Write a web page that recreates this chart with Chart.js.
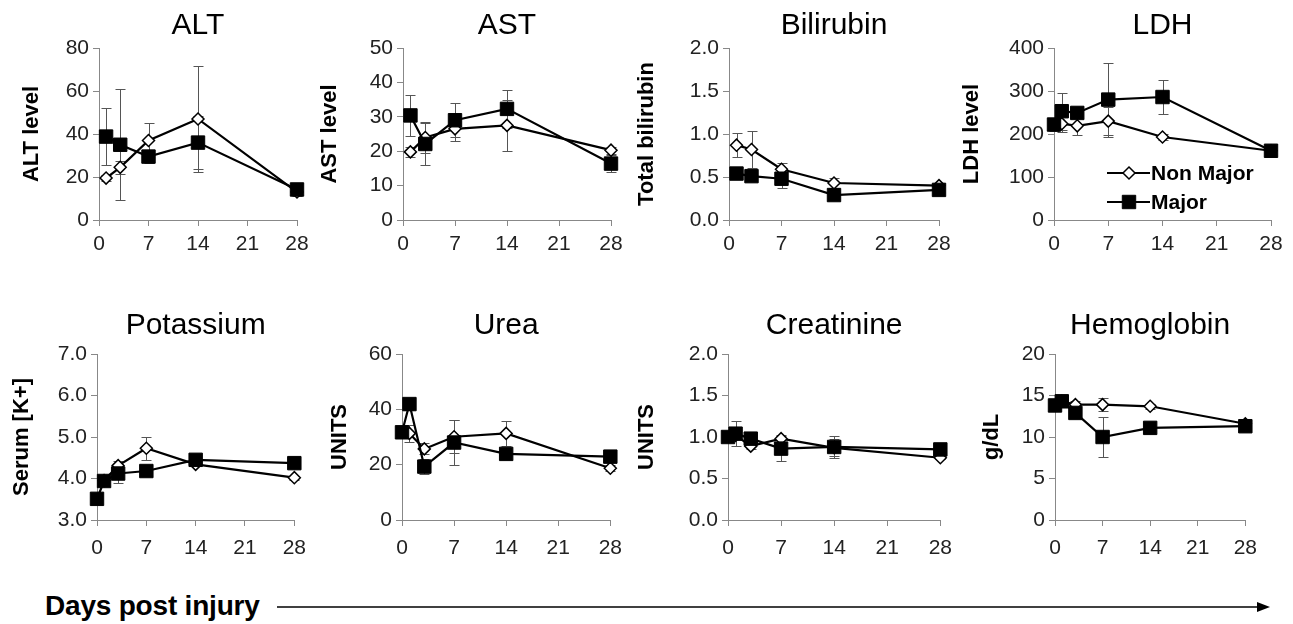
<!DOCTYPE html>
<html>
<head>
<meta charset="utf-8">
<title>Lab values post injury</title>
<script src="https://cdn.jsdelivr.net/npm/chart.js@4.4.1/dist/chart.umd.min.js"></script>
<style>
  body { margin: 0; background: #fff; }
  #wrap { position: relative; width: 1293px; height: 624px; overflow: hidden; background: #fff; }
  #wrap canvas { position: absolute; }
  #xlabel {
    position: absolute; left: 45px; top: 590px;
    font: bold 28px "Liberation Sans", Arial, sans-serif;
    letter-spacing: -0.2px; color: #000; white-space: nowrap;
  }
  #arrow { position: absolute; left: 0; top: 595px; }
</style>
</head>
<body>
<div id="wrap">
  <div id="xlabel">Days post injury</div>
  <svg id="arrow" width="1293" height="25">
    <line x1="277" y1="12" x2="1262" y2="12" stroke="#000" stroke-width="1.5"/>
    <polygon points="1257,7 1270,12 1257,17" fill="#000"/>
  </svg>
</div>
<script>
// days sampled
const daysShort = [1, 3, 7, 14, 28];
const daysLong = [0, 1, 3, 7, 14, 28];
const xTicks = [0, 7, 14, 21, 28];

// values (mean, error)
const altNonMajor = [19.5, 24.5, 37, 47, 13];
const altNonMajorErr = [1.5, 3, 8, 24.5, 2];
const altMajor = [38.8, 35, 29.5, 36, 14.2];
const altMajorErr = [13.4, 25.7, 3, 12.5, 2];

const astNonMajor = [19.8, 24, 26.5, 27.5, 20.3];
const astNonMajorErr = [1.5, 4.5, 3.5, 7.5, 1];
const astMajor = [30.4, 22.1, 29, 32.3, 16.4];
const astMajorErr = [6, 6, 5, 5.6, 2.5];

const biliNonMajor = [0.87, 0.82, 0.59, 0.43, 0.40];
const biliNonMajorErr = [0.14, 0.22, 0.07, 0.06, 0.03];
const biliMajor = [0.54, 0.51, 0.48, 0.29, 0.35];
const biliMajorErr = [0.03, 0.03, 0.11, 0.03, 0.03];

const ldhNonMajor = [224, 219, 230, 193, 161];
const ldhNonMajorErr = [20, 22, 33, 8, 8];
const ldhMajor = [222, 253, 249, 280, 286, 161];
const ldhMajorErr = [15, 43, 10, 86, 40, 8];

const kNonMajor = [3.95, 4.31, 4.73, 4.34, 4.02];
const kNonMajorErr = [0.05, 0.1, 0.28, 0.05, 0.05];
const kMajor = [3.51, 3.94, 4.12, 4.18, 4.45, 4.37];
const kMajorErr = [0.05, 0.05, 0.24, 0.1, 0.05, 0.05];

const ureaNonMajor = [31.3, 25.7, 30.1, 31.3, 18.7];
const ureaNonMajorErr = [3, 2, 6, 4.6, 1];
const ureaMajor = [31.7, 41.9, 19.3, 28, 23.9, 22.9];
const ureaMajorErr = [2, 2.2, 2.7, 8, 1, 1];

const creatNonMajor = [1.02, 0.89, 0.98, 0.87, 0.75];
const creatNonMajorErr = [0.05, 0.03, 0.04, 0.1, 0.02];
const creatMajor = [1.00, 1.04, 0.98, 0.86, 0.88, 0.85];
const creatMajorErr = [0.05, 0.15, 0.08, 0.15, 0.13, 0.03];

const hbNonMajor = [14.3, 13.9, 13.9, 13.7, 11.6];
const hbNonMajorErr = [0.5, 0.4, 0.8, 0.3, 0.5];
const hbMajor = [13.8, 14.3, 12.9, 10.0, 11.1, 11.3];
const hbMajorErr = [0.5, 0.6, 0.6, 2.35, 0.5, 0.5];

const panelTitles = ['ALT', 'AST', 'Bilirubin', 'LDH', 'Potassium', 'Urea', 'Creatinine', 'Hemoglobin'];
const yTitles = ['ALT level', 'AST level', 'Total bilirubin', 'LDH level', 'Serum [K+]', 'UNITS', 'UNITS', 'g/dL'];
const yTicks = [
  [0, 20, 40, 60, 80],
  [0, 10, 20, 30, 40, 50],
  [0, 0.5, 1, 1.5, 2],
  [0, 100, 200, 300, 400],
  [3, 4, 5, 6, 7],
  [0, 20, 40, 60],
  [0, 0.5, 1, 1.5, 2],
  [0, 5, 10, 15, 20]
];
const yDecimals = [0, 0, 1, 0, 1, 0, 1, 0];

const series = [
  [daysShort, altNonMajor, altNonMajorErr, daysShort, altMajor, altMajorErr],
  [daysShort, astNonMajor, astNonMajorErr, daysShort, astMajor, astMajorErr],
  [daysShort, biliNonMajor, biliNonMajorErr, daysShort, biliMajor, biliMajorErr],
  [daysShort, ldhNonMajor, ldhNonMajorErr, daysLong, ldhMajor, ldhMajorErr],
  [daysShort, kNonMajor, kNonMajorErr, daysLong, kMajor, kMajorErr],
  [daysShort, ureaNonMajor, ureaNonMajorErr, daysLong, ureaMajor, ureaMajorErr],
  [daysShort, creatNonMajor, creatNonMajorErr, daysLong, creatMajor, creatMajorErr],
  [daysShort, hbNonMajor, hbNonMajorErr, daysLong, hbMajor, hbMajorErr]
];

// page geometry of each panel (pixels)
const axisLeft = [99, 403, 729, 1054, 97, 402, 728, 1055];
const axisRight = [297, 611, 939, 1271, 296, 612, 942, 1247];
const titleOffset = [67, 73, 82, 82, 75, 62, 81, 63];
const rowTop = [0, 300];
const plotTop = [48, 354];
const plotBottom = [220, 520];
const titleCenter = [26, 326];
const xTickPad = [6, 10];

const YW = 100, XH = 45, RIGHT_PAD = 20;
const TITLE_SIZE = 30, YTITLE_SIZE = 22, TICK_SIZE = 21;

Chart.defaults.font.family = '"Liberation Sans", Arial, sans-serif';

function xy(days, vals) {
  return vals.map((v, i) => ({ x: days[i], y: v }));
}

const errorBars = {
  id: 'errorBars',
  beforeDatasetsDraw(chart) {
    const ctx = chart.ctx;
    const y = chart.scales.y;
    ctx.save();
    ctx.strokeStyle = '#555';
    ctx.lineWidth = 1;
    chart.data.datasets.forEach((ds, i) => {
      const meta = chart.getDatasetMeta(i);
      ds.errors.forEach((e, j) => {
        const pt = meta.data[j];
        const v = ds.data[j].y;
        const t = Math.round(y.getPixelForValue(v + e)) + 0.5;
        const b = Math.round(y.getPixelForValue(v - e)) + 0.5;
        const x = Math.round(pt.x) + 0.5;
        ctx.beginPath();
        ctx.moveTo(x, t); ctx.lineTo(x, b);
        ctx.moveTo(x - 5, t); ctx.lineTo(x + 5, t);
        ctx.moveTo(x - 5, b); ctx.lineTo(x + 5, b);
        ctx.stroke();
      });
    });
    ctx.restore();
  }
};

function marker(ctx, ds, x, y) {
  ctx.beginPath();
  if (ds.pointStyle === 'rect') {
    const s = ds.pointRadius * Math.SQRT1_2;
    ctx.rect(x - s, y - s, 2 * s, 2 * s);
  } else {
    const r = ds.pointRadius;
    ctx.moveTo(x, y - r); ctx.lineTo(x + r, y); ctx.lineTo(x, y + r); ctx.lineTo(x - r, y);
    ctx.closePath();
  }
  ctx.fillStyle = ds.pointBackgroundColor;
  ctx.fill();
  ctx.lineWidth = ds.pointBorderWidth;
  ctx.strokeStyle = ds.pointBorderColor;
  ctx.stroke();
}

const legendBox = {
  id: 'legendBox',
  afterDatasetsDraw(chart, args, opts) {
    if (!opts.show) return;
    const ctx = chart.ctx;
    const a = chart.chartArea;
    ctx.save();
    [1, 0].forEach((idx, row) => {
      const ds = chart.data.datasets[idx];
      const y = a.top + 125 + row * 29;
      ctx.beginPath();
      ctx.moveTo(a.left + 53, y); ctx.lineTo(a.left + 96, y);
      ctx.lineWidth = 2; ctx.strokeStyle = '#000';
      ctx.stroke();
      marker(ctx, ds, a.left + 75, y);
      ctx.fillStyle = '#000';
      ctx.font = 'bold 21px "Liberation Sans", Arial, sans-serif';
      ctx.textBaseline = 'middle';
      ctx.fillText(ds.label, a.left + 97, y + 1);
    });
    ctx.restore();
  }
};

const wrap = document.getElementById('wrap');

panelTitles.forEach((name, p) => {
  const row = p < 4 ? 0 : 1;
  const [dN, vN, eN, dM, vM, eM] = series[p];
  const canvas = document.createElement('canvas');
  const width = YW + (axisRight[p] - axisLeft[p]) + RIGHT_PAD;
  const height = plotBottom[row] - rowTop[row] + XH;
  canvas.width = width;
  canvas.height = height;
  canvas.style.left = (axisLeft[p] - YW) + 'px';
  canvas.style.top = rowTop[row] + 'px';
  wrap.appendChild(canvas);

  const tc = titleCenter[row] - rowTop[row];
  const lh = TITLE_SIZE * 1.2;
  const tPadTop = tc - lh / 2;
  const tPadBottom = (plotTop[row] - rowTop[row]) - tc - lh / 2;
  const yPad = YW - titleOffset[p] - YTITLE_SIZE * 1.2 / 2;
  const yt = yTicks[p];

  new Chart(canvas, {
    type: 'line',
    data: {
      datasets: [
        {
          label: 'Major',
          data: xy(dM, vM),
          errors: eM,
          borderColor: '#000',
          borderWidth: 2.2,
          pointStyle: 'rect',
          pointRadius: 9.5,
          pointBackgroundColor: '#000',
          pointBorderColor: '#000',
          pointBorderWidth: 1,
          order: 0,
          clip: false
        },
        {
          label: 'Non Major',
          data: xy(dN, vN),
          errors: eN,
          borderColor: '#000',
          borderWidth: 2.2,
          pointStyle: 'rectRot',
          pointRadius: 6,
          pointBackgroundColor: '#fff',
          pointBorderColor: '#000',
          pointBorderWidth: 1.5,
          order: 1,
          clip: false
        }
      ]
    },
    options: {
      responsive: false,
      animation: false,
      events: [],
      layout: { padding: { left: 0, right: RIGHT_PAD, top: 0, bottom: 0 } },
      plugins: {
        legend: { display: false },
        tooltip: { enabled: false },
        title: {
          display: true,
          text: name,
          fullSize: false,
          color: '#000',
          font: { size: TITLE_SIZE, weight: 'normal' },
          padding: { top: tPadTop, bottom: tPadBottom }
        },
        legendBox: { show: p === 3 }
      },
      scales: {
        x: {
          type: 'linear',
          min: 0,
          max: 28,
          afterBuildTicks: s => { s.ticks = xTicks.map(v => ({ value: v })); },
          afterFit: s => { s.height = XH; },
          grid: { drawOnChartArea: false, tickLength: 6, color: '#888' },
          border: { color: '#888', width: 1 },
          ticks: { color: '#222', font: { size: TICK_SIZE }, padding: xTickPad[row], maxRotation: 0, autoSkip: false }
        },
        y: {
          min: yt[0],
          max: yt[yt.length - 1],
          afterBuildTicks: s => { s.ticks = yt.map(v => ({ value: v })); },
          afterFit: s => { s.width = YW; },
          grid: { drawOnChartArea: false, tickLength: 6, color: '#888' },
          border: { color: '#888', width: 1 },
          ticks: {
            color: '#222',
            font: { size: TICK_SIZE },
            padding: 4,
            callback: v => Number(v).toFixed(yDecimals[p])
          },
          title: {
            display: true,
            text: yTitles[p],
            color: '#000',
            font: { size: YTITLE_SIZE, weight: 'bold' },
            padding: { top: yPad, bottom: 0 }
          }
        }
      }
    },
    plugins: [errorBars, legendBox]
  });
});
</script>
</body>
</html>
